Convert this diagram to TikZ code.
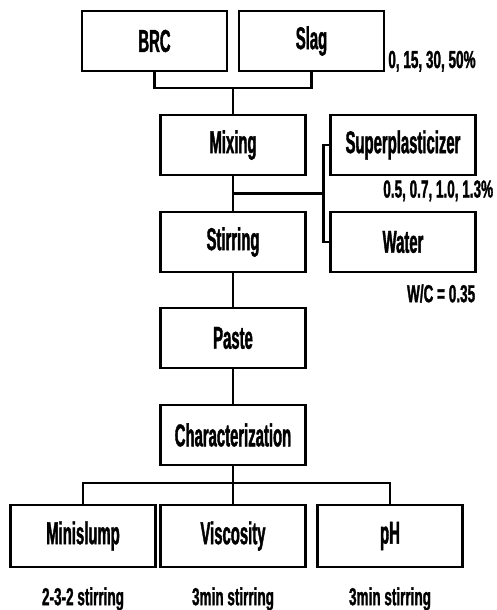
\documentclass[tikz,border=0pt]{standalone}
\usepackage{fontspec}
\setmainfont{Liberation Sans}[FakeStretch=0.47, BoldFeatures={FakeBold=1.2}]
\newfontfamily\notefont{Liberation Sans}[FakeStretch=0.55, BoldFeatures={FakeBold=1.2}]
\usetikzlibrary{
  positioning,
  calc}
\tikzset{
  %% stage : a material or a processing stage
  stage/.style={
    rectangle,
    draw=black,
    line width=1.6pt,
    outer sep=0pt,
    minimum width=2.9cm,
    minimum height=1.2cm,
    font=\bfseries\fontsize{18}{20}\selectfont,
    align=center
  },
  %% testbox : a measurement at the end
  testbox/.style={
    stage,
    minimum height=1.24cm
  },
  %% note : dose or condition written beside a box
  note/.style={
    inner sep=0pt,
    font=\notefont\bfseries\fontsize{14}{16}\selectfont
  },
  %% link : plain connecting line
  link/.style={line width=1.6pt}
}

\begin{document}
\begin{tikzpicture}
  [x=1cm,
  y=-1cm,
  align=center,
  node distance=0.5cm and 0.5cm]

  \useasboundingbox (0, 0) rectangle (9.94, 12.2);

  %% Raw materials
  \node (brc) [stage] at (3.09, 0.82) {BRC};

  \node (slag) [right=0.24cm of brc, stage] {Slag};

  \coordinate (binder) at ($(brc.south)!0.5!(slag.south) + (0, 0.34)$);

  %% Main workflow
  \node (mixing) [below=0.54cm of binder, stage] {Mixing};

  \node (sp) [right=0.5cm of mixing, stage] {Superplasticizer};

  \node (stirring) [below=0.74cm of mixing, stage] {Stirring};

  \node (water) [right=0.5cm of stirring, stage] {Water};

  \node (paste) [below=0.72cm of stirring, stage] {Paste};

  \node (charact) [below=0.74cm of paste, stage] {Characterization};

  %% Tests
  \node (viscosity) [below=0.8cm of charact, testbox] {Viscosity};

  \node (minislump) [left=0.1cm of viscosity, testbox] {Minislump};

  \node (ph) [right=0.24cm of viscosity, testbox] {pH};

  %% Connections
  \draw [link] (brc.south) |- (binder) -| (slag.south);
  \draw [link] (binder) -- (mixing.north);
  \draw [link] (mixing) -- (stirring);
  \coordinate (mixjoin) at ($(mixing.south)!0.5!(stirring.north)$);
  \coordinate (addjoin) at ($(sp.west) - (0.14, 0)$);
  \draw [link] (sp.west) -- (addjoin) |- (water.west);
  \draw [link] (mixjoin) -- (mixjoin -| addjoin);
  \draw [link] (stirring) -- (paste);
  \draw [link] (paste) -- (charact);
  \coordinate (testjoin) at ($(charact.south) + (0, 0.36)$);
  \draw [link] (charact.south) -- (testjoin);
  \draw [link] (minislump.north) |- (testjoin) -| (ph.north);
  \draw [link] (testjoin) -- (viscosity.north);

  %% Doses and conditions
  \node (slagdose) [note, anchor=base west] at
  ($(slag.south east) + (0.08, -0.06)$) {0, 15, 30, 50\%};

  \node (spdose) [note, anchor=north east] at
  ($(sp.south east) + (0.36, 0.1)$) {0.5, 0.7, 1.0, 1.3\%};

  \node (wcratio) [note, anchor=north east] at
  ($(water.south east) + (0, 0.24)$) {W/C = 0.35};

  \node (slumpnote) [below=0.4cm of minislump, note] {2-3-2 stirring};
  \node (visconote) [below=0.4cm of viscosity, note] {3min stirring};
  \node (phnote) [below=0.4cm of ph, note] {3min stirring};

\end{tikzpicture}
\end{document}
